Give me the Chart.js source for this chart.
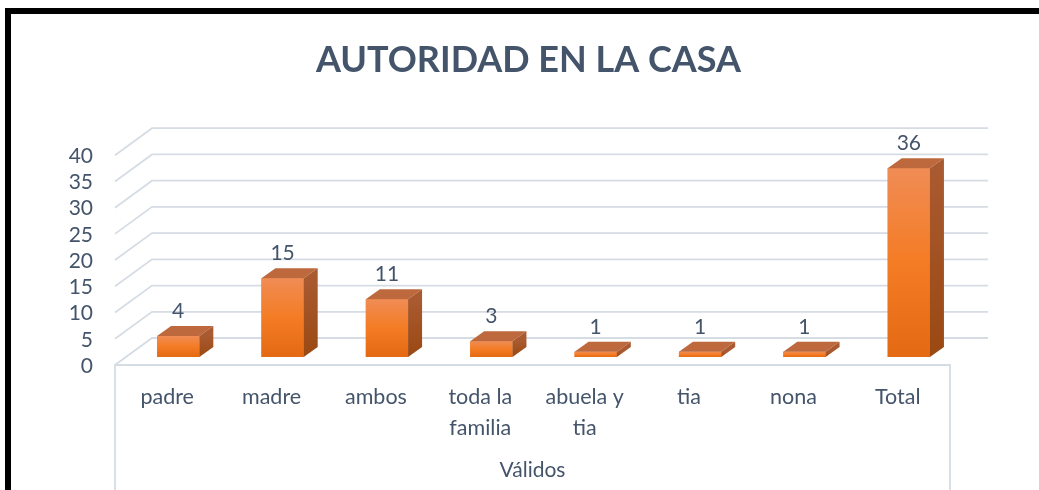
<!DOCTYPE html>
<html><head><meta charset="utf-8">
<style>
html,body{margin:0;padding:0;background:#fff;overflow:hidden;width:1039px;height:490px;}
#frame{position:absolute;left:5px;top:8px;width:1060px;height:520px;border:6px solid #000;box-sizing:border-box;background:#fff;}
#wrap{position:absolute;left:11px;top:14px;width:1035px;height:480px;}
</style>
<script src="https://cdn.jsdelivr.net/npm/chart.js@4.4.1/dist/chart.umd.min.js"></script>
</head><body>
<div id="frame"></div>
<div id="wrap"><canvas id="c" width="1035" height="480"></canvas></div>
<script>
const chartTitle = 'AUTORIDAD EN LA CASA';
const axisTitle = 'Válidos';
const categories = [['padre'], ['madre'], ['ambos'], ['toda la', 'familia'], ['abuela y', 'tia'], ['tia'], ['nona'], ['Total']];
const values = [4, 15, 11, 3, 1, 1, 1, 36];
const yMin = 0, yMax = 40, yStep = 5;

const FONT = 'Lato';
const TEXT = '#44546A';
const GRID = '#D6DCE4';
const FRONT = {dx: -11, dy: 8};
const BACK = {dx: 26, dy: -19};
const BARD = {dx: 14, dy: -10};

const threeD = {
  id: 'threeD',
  beforeDatasetsDraw(chart) {
    const {ctx, chartArea: a, scales: {y}} = chart;
    ctx.save();
    ctx.strokeStyle = GRID;
    ctx.lineWidth = 1.8;
    y.ticks.forEach(t => {
      const py = y.getPixelForValue(t.value);
      ctx.beginPath();
      ctx.moveTo(a.left + FRONT.dx, py + FRONT.dy);
      ctx.lineTo(a.left + BACK.dx, py + BACK.dy);
      ctx.lineTo(a.right + BACK.dx + 1, py + BACK.dy);
      ctx.stroke();
    });
    const y0 = y.getPixelForValue(0) + FRONT.dy;
    ctx.beginPath();
    ctx.moveTo(a.left + FRONT.dx, chart.height);
    ctx.lineTo(a.left + FRONT.dx, y0);
    ctx.lineTo(a.right + FRONT.dx, y0);
    ctx.lineTo(a.right + FRONT.dx, chart.height);
    ctx.stroke();
    ctx.restore();
  },
  afterDatasetsDraw(chart) {
    const {ctx, chartArea: a, scales: {y}} = chart;
    const meta = chart.getDatasetMeta(0);
    ctx.save();
    meta.data.forEach((bar, i) => {
      const p = bar.getProps(['x', 'y', 'base', 'width'], true);
      const l = p.x - p.width / 2, r = p.x + p.width / 2, top = p.y, base = p.base;
      const g = ctx.createLinearGradient(0, top, 0, base);
      g.addColorStop(0, '#F08C55');
      g.addColorStop(0.5, '#F47C24');
      g.addColorStop(1, '#E36A12');
      ctx.fillStyle = g;
      ctx.fillRect(l, top, p.width, base - top);
      // top face
      ctx.fillStyle = '#BD693D';
      ctx.beginPath();
      ctx.moveTo(l, top); ctx.lineTo(r, top);
      ctx.lineTo(r + BARD.dx, top + BARD.dy); ctx.lineTo(l + BARD.dx, top + BARD.dy);
      ctx.closePath(); ctx.fill();
      // side face
      const gs = ctx.createLinearGradient(0, top, 0, base);
      gs.addColorStop(0, '#A95A30');
      gs.addColorStop(1, '#9A4912');
      ctx.fillStyle = gs;
      ctx.beginPath();
      ctx.moveTo(r, top); ctx.lineTo(r + BARD.dx, top + BARD.dy);
      ctx.lineTo(r + BARD.dx, base + BARD.dy); ctx.lineTo(r, base);
      ctx.closePath(); ctx.fill();
      // value label
      ctx.fillStyle = TEXT;
      ctx.font = '21px ' + FONT;
      ctx.textAlign = 'center';
      ctx.textBaseline = 'middle';
      ctx.fillText(String(values[i]), p.x, top - 25);
    });
    // axis title
    ctx.fillStyle = TEXT;
    ctx.font = '21px ' + FONT;
    ctx.textAlign = 'center';
    ctx.textBaseline = 'middle';
    ctx.fillText(axisTitle, (a.left + a.right) / 2 + FRONT.dx, y.getPixelForValue(0) + 113);
    ctx.restore();
  }
};

new Chart(document.getElementById('c'), {
  type: 'bar',
  data: {
    labels: categories,
    datasets: [{
      data: values,
      backgroundColor: '#F47C24',
      borderWidth: 0,
      barPercentage: 0.405,
      categoryPercentage: 1
    }]
  },
  options: {
    responsive: false,
    animation: false,
    devicePixelRatio: 1,
    layout: {padding: 0},
    plugins: {
      legend: {display: false},
      tooltip: {enabled: false},
      title: {
        display: true,
        text: chartTitle,
        color: TEXT,
        font: {family: FONT, size: 36, weight: 'bold', lineHeight: 1.2},
        padding: {top: 25, bottom: 65}
      }
    },
    scales: {
      x: {
        grid: {display: false, drawTicks: false},
        border: {display: false},
        ticks: {
          color: TEXT,
          font: {family: FONT, size: 21.5, lineHeight: 1.43},
          padding: 25,
          labelOffset: FRONT.dx,
          maxRotation: 0,
          autoSkip: false
        },
        afterFit(scale) { scale.height = 137; }
      },
      y: {
        min: yMin, max: yMax,
        grid: {display: false, drawTicks: false},
        border: {display: false},
        ticks: {
          stepSize: yStep,
          autoSkip: false,
          color: TEXT,
          font: {family: FONT, size: 21},
          padding: 33,
          labelOffset: 9
        },
        afterFit(scale) { scale.width = 115; }
      },
      ySpace: {
        position: 'right',
        display: true,
        grid: {display: false, drawTicks: false},
        border: {display: false},
        ticks: {display: false},
        afterFit(scale) { scale.width = 85; }
      }
    }
  },
  plugins: [threeD]
});
</script>
</body></html>
